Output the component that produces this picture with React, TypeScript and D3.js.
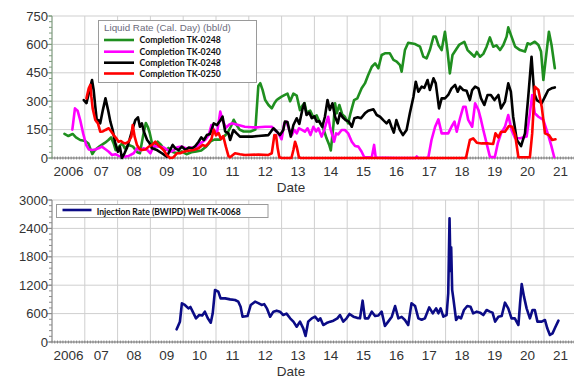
import React from "react";
import * as d3 from "d3";

// ---------- DATA (decimal year, value) ----------
const yearLabels = ["2006","07","08","09","10","11","12","13","14","15","16","17","18","19","20","21"];
const topTicks = [0, 150, 300, 450, 600, 750];
const bottomTicks = [0, 600, 1200, 1800, 2400, 3000];

const legendTitle = "Liquid Rate (Cal. Day)  (bbl/d)";
const seriesNames = ["Completion TK-0248", "Completion TK-0240", "Completion TK-0248", "Completion TK-0250"];
const injectionName = "Injection Rate (BWIPD) Well TK-0068";

const greenTK0248: [number, number][] = [
  [2006.38,127],[2006.50,116],[2006.63,127],[2006.73,109],[2006.86,95],[2007.01,90],[2007.11,77],[2007.19,39],[2007.23,21],
  [2007.31,42],[2007.46,63],[2007.62,81],[2007.72,95],[2007.80,109],[2007.88,77],[2007.94,42],[2008.02,56],[2008.14,77],
  [2008.22,51],[2008.34,69],[2008.47,60],[2008.60,30],[2008.68,25],[2008.78,120],[2008.86,185],[2008.92,165],[2008.98,132],
  [2009.05,77],[2009.12,56],[2009.22,86],[2009.32,70],[2009.45,40],[2009.55,53],[2009.70,30],[2009.80,26],[2009.95,35],
  [2010.10,20],[2010.25,30],[2010.40,35],[2010.55,40],[2010.70,60],[2010.85,90],[2010.95,97],[2011.13,97],[2011.25,115],
  [2011.35,132],[2011.45,165],[2011.54,202],[2011.62,176],[2011.72,150],[2011.84,140],[2012.05,140],[2012.20,150],
  [2012.29,380],[2012.35,395],[2012.42,360],[2012.50,306],[2012.60,280],[2012.70,262],[2012.78,289],[2012.85,306],
  [2012.92,315],[2013.00,324],[2013.10,333],[2013.18,340],[2013.26,300],[2013.36,340],[2013.46,330],[2013.56,253],
  [2013.63,275],[2013.70,290],[2013.76,240],[2013.87,250],[2013.97,215],[2014.07,225],[2014.17,185],[2014.27,157],
  [2014.37,104],[2014.45,70],[2014.50,40],[2014.58,174],[2014.63,289],[2014.68,236],[2014.76,280],[2014.85,230],
  [2014.93,218],[2015.03,183],[2015.10,236],[2015.21,306],[2015.31,315],[2015.44,368],[2015.54,394],[2015.64,438],
  [2015.75,482],[2015.85,500],[2015.95,474],[2016.05,544],[2016.15,553],[2016.30,553],[2016.41,518],[2016.51,509],
  [2016.61,490],[2016.66,456],[2016.76,570],[2016.86,609],[2017.07,602],[2017.22,588],[2017.32,535],[2017.42,526],
  [2017.52,570],[2017.63,641],[2017.70,641],[2017.78,597],[2017.88,570],[2017.98,667],[2018.06,562],[2018.13,447],
  [2018.21,544],[2018.31,570],[2018.41,597],[2018.57,614],[2018.67,570],[2018.77,553],[2018.88,535],[2018.95,560],
  [2019.05,535],[2019.15,550],[2019.25,588],[2019.35,637],[2019.45,588],[2019.55,595],[2019.66,570],[2019.76,597],
  [2019.86,641],[2019.91,690],[2020.01,641],[2020.12,588],[2020.27,570],[2020.42,562],[2020.50,606],[2020.58,600],
  [2020.72,614],[2020.83,597],[2020.91,562],[2020.98,412],[2021.05,518],[2021.15,667],[2021.23,597],[2021.33,474]
];

const magentaTK0240: [number, number][] = [
  [2006.62,150],[2006.70,262],[2006.78,250],[2006.86,200],[2006.95,130],[2007.04,70],[2007.12,45],[2007.22,42],[2007.32,45],
  [2007.42,51],[2007.52,60],[2007.63,46],[2007.73,33],[2007.83,16],[2007.93,20],[2008.03,11],[2008.18,7],[2008.34,11],
  [2008.49,25],[2008.59,51],[2008.69,40],[2008.79,51],[2008.89,45],[2009.00,25],[2009.10,63],[2009.25,60],[2009.40,56],
  [2009.50,45],[2009.60,33],[2009.70,40],[2009.81,56],[2009.96,60],[2010.10,50],[2010.25,56],[2010.37,51],[2010.52,77],
  [2010.67,95],[2010.78,121],[2010.86,174],[2010.93,150],[2011.03,130],[2011.13,245],[2011.20,200],[2011.30,160],
  [2011.40,176],[2011.48,183],[2011.68,174],[2011.88,165],[2012.10,162],[2012.29,162],[2012.50,165],[2012.70,165],
  [2012.80,148],[2012.90,130],[2013.00,99],[2013.08,183],[2013.15,192],[2013.23,148],[2013.31,121],[2013.39,148],
  [2013.46,130],[2013.53,157],[2013.62,148],[2013.71,139],[2013.79,157],[2013.88,121],[2013.97,165],[2014.05,140],
  [2014.12,157],[2014.22,113],[2014.30,148],[2014.42,218],[2014.48,160],[2014.53,130],[2014.60,86],[2014.66,130],
  [2014.73,125],[2014.83,148],[2014.93,148],[2015.03,130],[2015.14,86],[2015.24,63],[2015.34,60],[2015.44,33],
  [2015.52,4],[2015.75,4],[2015.82,69],[2015.87,2],[2016.50,0],[2017.08,0],[2017.12,8],[2017.16,0],[2017.47,0],
  [2017.57,95],[2017.68,165],[2017.78,204],[2017.88,130],[2017.98,130],[2018.08,130],[2018.18,165],[2018.27,192],
  [2018.34,139],[2018.44,210],[2018.54,271],[2018.61,271],[2018.69,201],[2018.81,165],[2018.90,289],[2019.00,254],
  [2019.08,201],[2019.15,148],[2019.25,77],[2019.35,7],[2019.50,4],[2019.59,77],[2019.69,130],[2019.81,165],
  [2019.91,227],[2020.01,148],[2020.12,104],[2020.27,104],[2020.47,113],[2020.57,236],[2020.64,333],[2020.72,236],
  [2020.83,218],[2020.98,201],[2021.13,121],[2021.23,60],[2021.31,5]
];

const blackTK0248: [number, number][] = [
  [2006.97,306],[2007.05,290],[2007.12,341],[2007.17,377],[2007.22,412],[2007.27,359],[2007.32,271],[2007.37,192],
  [2007.42,200],[2007.47,183],[2007.55,253],[2007.63,315],[2007.71,253],[2007.78,192],[2007.85,148],[2007.93,77],
  [2008.01,33],[2008.07,60],[2008.13,0],[2008.21,25],[2008.29,56],[2008.36,95],[2008.45,150],[2008.54,200],[2008.62,215],
  [2008.68,165],[2008.74,183],[2008.80,140],[2008.90,95],[2008.97,80],[2009.05,51],[2009.20,42],[2009.35,25],[2009.50,7],
  [2009.60,42],[2009.68,69],[2009.76,51],[2009.86,42],[2009.96,60],[2010.07,42],[2010.17,55],[2010.27,50],[2010.37,63],
  [2010.47,86],[2010.55,109],[2010.63,95],[2010.72,121],[2010.82,127],[2010.93,183],[2011.03,174],[2011.12,195],
  [2011.20,218],[2011.28,140],[2011.38,130],[2011.43,95],[2011.53,148],[2011.63,130],[2011.73,113],[2011.88,113],
  [2012.10,113],[2012.29,116],[2012.60,121],[2012.75,157],[2012.85,140],[2012.95,121],[2013.05,148],[2013.10,192],
  [2013.18,190],[2013.28,113],[2013.36,174],[2013.46,210],[2013.54,180],[2013.63,254],[2013.69,289],[2013.76,227],
  [2013.84,240],[2013.92,210],[2014.00,220],[2014.07,192],[2014.15,195],[2014.24,165],[2014.32,218],[2014.40,306],
  [2014.47,254],[2014.55,289],[2014.63,218],[2014.71,183],[2014.78,236],[2014.86,215],[2014.95,200],[2015.05,192],
  [2015.14,165],[2015.22,210],[2015.32,215],[2015.42,210],[2015.54,236],[2015.64,250],[2015.80,257],[2015.90,227],
  [2016.00,218],[2016.10,200],[2016.20,183],[2016.28,200],[2016.35,165],[2016.42,134],[2016.50,200],[2016.60,150],
  [2016.70,121],[2016.81,148],[2016.91,236],[2017.02,324],[2017.09,403],[2017.17,350],[2017.27,377],[2017.35,370],
  [2017.45,412],[2017.52,359],[2017.63,421],[2017.70,394],[2017.80,262],[2017.88,315],[2017.98,315],[2018.08,333],
  [2018.18,368],[2018.29,386],[2018.37,350],[2018.44,377],[2018.54,359],[2018.64,355],[2018.74,306],[2018.81,359],
  [2018.90,377],[2019.00,368],[2019.08,315],[2019.18,280],[2019.28,333],[2019.38,333],[2019.49,306],[2019.61,333],
  [2019.69,262],[2019.81,298],[2019.91,394],[2019.99,350],[2020.06,218],[2020.17,95],[2020.30,63],[2020.42,130],
  [2020.52,324],[2020.62,535],[2020.70,342],[2020.78,306],[2020.93,289],[2021.03,324],[2021.13,359],[2021.23,368],
  [2021.33,373]
];

const redTK0250: [number, number][] = [
  [2007.05,315],[2007.12,368],[2007.17,386],[2007.20,324],[2007.24,262],[2007.32,201],[2007.40,183],[2007.47,139],
  [2007.55,140],[2007.63,148],[2007.73,157],[2007.81,139],[2007.88,121],[2007.96,104],[2008.03,86],[2008.10,90],
  [2008.17,80],[2008.24,77],[2008.33,85],[2008.42,113],[2008.46,174],[2008.52,113],[2008.59,69],[2008.66,51],
  [2008.74,42],[2008.85,45],[2008.95,60],[2009.05,69],[2009.15,86],[2009.23,69],[2009.32,55],[2009.40,42],[2009.50,16],
  [2009.60,0],[2009.70,3],[2009.81,25],[2009.91,25],[2010.01,33],[2010.16,38],[2010.32,42],[2010.47,51],[2010.59,69],
  [2010.68,62],[2010.76,75],[2010.86,100],[2010.93,149],[2011.00,120],[2011.08,132],[2011.15,100],[2011.22,116],
  [2011.30,60],[2011.38,10],[2011.43,4],[2011.58,25],[2011.73,20],[2011.88,16],[2012.29,18],[2012.60,16],[2012.70,25],
  [2012.78,121],[2012.83,120],[2012.88,51],[2012.93,4],[2013.00,0],[2013.30,0],[2013.36,42],[2013.41,86],[2013.46,60],
  [2013.53,3],[2013.60,0],[2018.62,0],[2018.74,95],[2018.84,104],[2018.95,81],[2019.10,77],[2019.30,77],[2019.45,74],
  [2019.52,130],[2019.61,109],[2019.69,139],[2019.81,139],[2019.93,169],[2020.03,165],[2020.12,121],[2020.22,4],
  [2020.57,4],[2020.64,130],[2020.72,377],[2020.83,359],[2020.93,271],[2021.03,130],[2021.15,121],[2021.25,95],
  [2021.35,99]
];

const injectionTK0068: [number, number][] = [
  [2009.80,268],[2009.90,430],[2009.96,817],[2010.05,782],[2010.16,711],[2010.22,740],[2010.29,641],[2010.39,500],
  [2010.49,570],[2010.58,560],[2010.66,641],[2010.75,500],[2010.84,408],[2010.90,606],[2010.97,1099],[2011.07,1063],
  [2011.14,922],[2011.28,922],[2011.43,901],[2011.58,887],[2011.68,852],[2011.75,746],[2011.81,535],[2011.96,549],
  [2012.06,782],[2012.19,852],[2012.29,820],[2012.39,782],[2012.47,800],[2012.55,711],[2012.65,535],[2012.75,641],
  [2012.85,662],[2012.95,641],[2013.05,570],[2013.15,600],[2013.26,500],[2013.36,430],[2013.46,324],[2013.56,430],
  [2013.66,289],[2013.73,127],[2013.81,430],[2013.92,500],[2014.02,535],[2014.12,451],[2014.18,500],[2014.27,359],
  [2014.37,400],[2014.48,430],[2014.58,451],[2014.70,500],[2014.78,570],[2014.88,430],[2014.98,500],[2015.07,592],
  [2015.19,535],[2015.30,510],[2015.39,500],[2015.47,873],[2015.54,500],[2015.64,500],[2015.75,641],[2015.85,549],
  [2015.95,560],[2016.05,641],[2016.15,338],[2016.25,430],[2016.36,535],[2016.46,760],[2016.56,500],[2016.66,530],
  [2016.76,465],[2016.86,359],[2016.96,817],[2017.07,760],[2017.17,500],[2017.27,470],[2017.37,500],[2017.50,732],
  [2017.61,606],[2017.71,711],[2017.78,606],[2017.85,711],[2017.93,535],[2018.03,570],[2018.08,1028],[2018.12,2613],
  [2018.15,1500],[2018.17,2000],[2018.20,1100],[2018.24,900],[2018.32,465],[2018.39,535],[2018.47,500],[2018.56,676],
  [2018.66,760],[2018.76,746],[2018.84,606],[2018.95,641],[2019.05,620],[2019.15,570],[2019.25,676],[2019.35,641],
  [2019.43,620],[2019.51,430],[2019.61,535],[2019.71,549],[2019.81,831],[2019.91,711],[2020.01,500],[2020.11,500],
  [2020.22,359],[2020.27,817],[2020.32,1225],[2020.39,958],[2020.47,711],[2020.57,500],[2020.65,676],[2020.72,676],
  [2020.80,430],[2020.93,430],[2021.03,465],[2021.10,289],[2021.18,148],[2021.26,183],[2021.33,289],[2021.44,451]
];

// ---------- LAYOUT ----------
const W = 574, H = 379;
const left = 52;
const xScale = d3.scaleLinear().domain([2006, 2022]).range([left, left + 16 * 32.8]);
const yTop = d3.scaleLinear().domain([0, 750]).range([158, 16]);
const yBot = d3.scaleLinear().domain([0, 3000]).range([342, 200]);

const FONT = "'Liberation Sans', Arial, sans-serif";
const BOLDFONT = "Lato, 'Liberation Sans', sans-serif";

function Panel({ y, ticks, minorStep, axisColor }: { y: d3.ScaleLinear<number, number>; ticks: number[]; minorStep: number; axisColor: string }) {
  const [y0, y1] = y.range();
  const years = d3.range(2006, 2023);
  const months = d3.range(2006, 2022.01, 1 / 12);
  const maxV = y.domain()[1];
  const minors = d3.range(0, maxV + 0.001, minorStep);
  return (
    <g>
      {ticks.map((t) => (
        <line key={"h" + t} x1={left} x2={W} y1={y(t)} y2={y(t)} stroke="#cfcfcf" strokeWidth={1} />
      ))}
      {years.map((yr) => (
        <line key={"v" + yr} x1={xScale(yr)} x2={xScale(yr)} y1={y1} y2={y0} stroke="#cfcfcf" strokeWidth={1} />
      ))}
      <line x1={left} x2={W} y1={y0} y2={y0} stroke="#888" strokeWidth={1} />
      {months.map((m, i) => (
        <line key={"m" + i} x1={xScale(m)} x2={xScale(m)} y1={y0 - 1.5} y2={y0 + 1.5} stroke="#777" strokeWidth={0.8} />
      ))}
      <line x1={left} x2={left} y1={y1} y2={y0} stroke={axisColor} strokeWidth={1} />
      {minors.map((v) => (
        <line key={"mn" + v} x1={left - 3} x2={left} y1={y(v)} y2={y(v)} stroke={axisColor} strokeWidth={1} />
      ))}
      {ticks.map((t) => (
        <g key={"t" + t}>
          <line x1={left - 5} x2={left} y1={y(t)} y2={y(t)} stroke={axisColor} strokeWidth={1} />
          <text x={left - 4} y={y(t)} dy="0.36em" textAnchor="end" fontFamily={FONT} fontSize={13} fill="#333">{t}</text>
        </g>
      ))}
      {yearLabels.map((lab, i) => (
        <text key={"yl" + i} x={xScale(2006 + i + 0.5)} y={y0 + 18} textAnchor="middle" fontFamily={FONT} fontSize={13.5} fill="#333">{lab}</text>
      ))}
      <text x={291} y={y0 + 33.5} textAnchor="middle" fontFamily={FONT} fontSize={13.5} fill="#333">Date</text>
    </g>
  );
}

export default function App() {
  const lineTop = d3.line<[number, number]>().x((d) => xScale(d[0])).y((d) => yTop(d[1]));
  const lineBot = d3.line<[number, number]>().x((d) => xScale(d[0])).y((d) => yBot(d[1]));
  const series: { data: [number, number][]; color: string }[] = [
    { data: greenTK0248, color: "#1f8f1f" },
    { data: magentaTK0240, color: "#ff00ff" },
    { data: blackTK0248, color: "#000000" },
    { data: redTK0250, color: "#ff0000" },
  ];
  const legendColors = ["#1f8f1f", "#ff00ff", "#000000", "#ff0000"];
  const rowY = [40, 51.7, 62.7, 73.5];
  return (
    <svg width={W} height={H} style={{ position: "absolute", left: 0, top: 0, background: "#fff" }}>
      <defs>
        <clipPath id="clipTop"><rect x={left} y={10} width={W - left} height={150} /></clipPath>
        <clipPath id="clipBot"><rect x={left} y={195} width={W - left} height={150} /></clipPath>
      </defs>
      <rect x={0} y={0} width={W} height={H} fill="#fff" />
      <Panel y={yTop} ticks={topTicks} minorStep={30} axisColor="#7d9c7d" />
      <Panel y={yBot} ticks={bottomTicks} minorStep={120} axisColor="#8a8a8a" />
      <g clipPath="url(#clipTop)">
        {series.map((s, i) => (
          <path key={i} d={lineTop(s.data) || ""} fill="none" stroke={s.color} strokeWidth={2.6} strokeLinejoin="round" strokeLinecap="round" />
        ))}
      </g>
      <g clipPath="url(#clipBot)">
        <path d={lineBot(injectionTK0068) || ""} fill="none" stroke="#0b0b86" strokeWidth={2.6} strokeLinejoin="round" strokeLinecap="round" />
      </g>
      {/* Top legend */}
      <rect x={98.5} y={20.5} width={158} height={62} fill="#fff" stroke="#9a9a9a" strokeWidth={1} />
      <text x={104} y={28} dy="0.35em" fontFamily={FONT} fontSize={9.8} fill="#6b6b7b">{legendTitle}</text>
      {seriesNames.map((n, i) => (
        <g key={"lg" + i}>
          <line x1={104} x2={134} y1={rowY[i]} y2={rowY[i]} stroke={legendColors[i]} strokeWidth={2.6} />
          <text x={139.5} y={rowY[i]} dy="0.35em" fontFamily={BOLDFONT} fontWeight="bold" fontSize={8.7} fill="#111">{n}</text>
        </g>
      ))}
      {/* Bottom legend */}
      <rect x={56.5} y={204.5} width={211.5} height={13} fill="#fff" stroke="#9a9a9a" strokeWidth={1} />
      <line x1={62.5} x2={91.5} y1={210} y2={210} stroke="#0b0b86" strokeWidth={2.6} />
      <text x={96.7} y={211.5} dy="0.35em" fontFamily={BOLDFONT} fontWeight="bold" fontSize={8.6} fill="#111">{injectionName}</text>
    </svg>
  );
}
